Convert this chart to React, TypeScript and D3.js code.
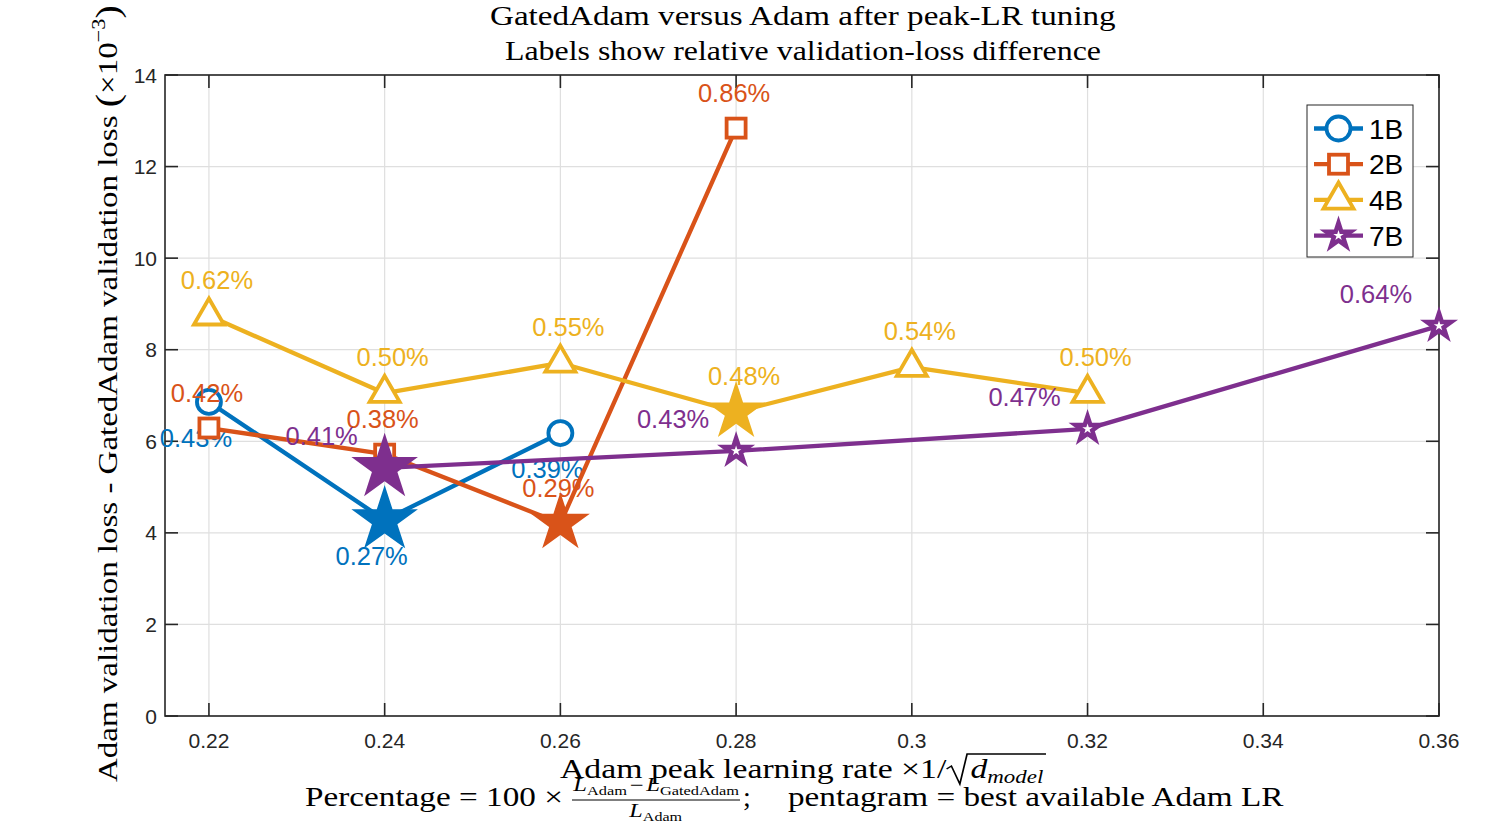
import * as React from 'react'
import {useEffect, useRef} from 'react'
import * as d3 from 'd3'

// axis ticks
const lrTicks = [0.22, 0.24, 0.26, 0.28, 0.3, 0.32, 0.34, 0.36]
const lossTicks = [0, 2, 4, 6, 8, 10, 12, 14]

// data (loss difference in units of 1e-3)
const models = ['1B', '2B', '4B', '7B']

const lr1B = [0.22, 0.24, 0.26]
const diff1B = [6.86, 4.28, 6.18]
const pct1B = ['0.43%', '0.27%', '0.39%']
const best1B = 0.24

const lr2B = [0.22, 0.24, 0.26, 0.28]
const diff2B = [6.29, 5.72, 4.21, 12.84]
const pct2B = ['0.42%', '0.38%', '0.29%', '0.86%']
const best2B = 0.26

const lr4B = [0.22, 0.24, 0.26, 0.28, 0.3, 0.32]
const diff4B = [8.74, 7.05, 7.71, 6.64, 7.62, 7.05]
const pct4B = ['0.62%', '0.50%', '0.55%', '0.48%', '0.54%', '0.50%']
const best4B = 0.28

const lr7B = [0.24, 0.28, 0.32, 0.36]
const diff7B = [5.42, 5.79, 6.27, 8.52]
const pct7B = ['0.41%', '0.43%', '0.47%', '0.64%']
const best7B = 0.24

const lrs = [lr1B, lr2B, lr4B, lr7B]
const diffs = [diff1B, diff2B, diff4B, diff7B]
const pcts = [pct1B, pct2B, pct4B, pct7B]
const bests = [best1B, best2B, best4B, best7B]

const style = {
    '1B': {color: '#0072BD', marker: 'circle', dx: -13, dy: 45, bestR: 35},
    '2B': {color: '#D95319', marker: 'square', dx: -2, dy: -26, bestR: 31},
    '4B': {color: '#EDB120', marker: 'triangle', dx: 8, dy: -27, bestR: 31},
    '7B': {color: '#7E2F8E', marker: 'star', dx: -63, dy: -23, bestR: 35},
}

const W = 1500, H = 833
const left = 165, right = 1439, top = 75, bottom = 716
const sans = "'Liberation Sans', Arial, Helvetica, sans-serif"
const serif = "'Liberation Serif', 'Times New Roman', serif"
const axisColor = '#262626'

const x = d3.scaleLinear().domain([0.215, 0.36]).range([left, right])
const y = d3.scaleLinear().domain([0, 14]).range([bottom, top])

const starPath = (R) => {
    const pts = d3.range(10).map(i => {
        const a = -Math.PI / 2 + i * Math.PI / 5
        const r = i % 2 ? R * 0.382 : R
        return [r * Math.cos(a), r * Math.sin(a)] as [number, number]
    })
    return d3.line()(pts) + 'Z'
}

const triPath = d3.symbol(d3.symbolTriangle, 390)()

const Marker = ({kind, color, cx, cy}) => {
    if (kind === 'circle')
        return <circle cx={cx} cy={cy} r={12} fill='white' stroke={color} strokeWidth={3.8}/>
    if (kind === 'square')
        return <rect x={cx - 9.5} y={cy - 9.5} width={19} height={19} fill='white' stroke={color} strokeWidth={3.8}/>
    if (kind === 'triangle')
        return <path d={triPath} transform={`translate(${cx},${cy})`} fill='white' stroke={color} strokeWidth={3.8} strokeLinejoin='miter'/>
    return (
        <g transform={`translate(${cx},${cy})`}>
            <path d={starPath(20)} fill={color}/>
            <path d={starPath(5.5)} fill='white'/>
        </g>
    )
}

// text group whose width gets stretched to match the reference
const Fit = ({w, transform, children}) => (
    <g className='fit' data-w={w} transform={transform}>
        <g className='inner'>{children}</g>
    </g>
)

const App = () => {
    const svgRef = useRef(null)

    useEffect(() => {
        const svg = d3.select(svgRef.current)
        // radical sign over d_model
        const t = svg.select('text.xlab').node() as SVGTextElement
        if (t) {
            svg.selectAll('.radical').remove()
            const xd = t.getStartPositionOfChar(27).x
            const xe = t.getEndPositionOfChar(32).x
            d3.select(t.parentNode as SVGGElement).append('path')
                .attr('class', 'radical')
                .attr('d', `M${xd - 20},-9 L${xd - 16},-12 L${xd - 9},6 L${xd - 3},-24 L${xe + 2},-24`)
                .attr('fill', 'none')
                .attr('stroke', 'black')
                .attr('stroke-width', 1.4)
        }
        svg.selectAll('g.fit').each(function () {
            const g = d3.select(this as SVGGElement)
            const inner = g.select('g.inner')
            const box = (inner.node() as SVGGElement).getBBox()
            const s = +g.attr('data-w') / box.width
            inner.attr('transform', `scale(${s},1) translate(${-box.x},0)`)
        })
    }, [])

    const line = d3.line<[number, number]>()
        .x(d => x(d[0]))
        .y(d => y(d[1]))

    return (
        <svg ref={svgRef} width={W} height={H}
             style={{position: 'absolute', left: 0, top: 0, background: 'white'}}>
            {/* grid */}
            {lrTicks.map(t => (
                <line key={'gx' + t} x1={x(t)} x2={x(t)} y1={top} y2={bottom} stroke='#dfdfdf' strokeWidth={1.2}/>
            ))}
            {lossTicks.map(t => (
                <line key={'gy' + t} x1={left} x2={right} y1={y(t)} y2={y(t)} stroke='#dfdfdf' strokeWidth={1.2}/>
            ))}

            {/* box and ticks */}
            <rect x={left} y={top} width={right - left} height={bottom - top} fill='none' stroke={axisColor} strokeWidth={1.6}/>
            {lrTicks.map(t => (
                <g key={'tx' + t}>
                    <line x1={x(t)} x2={x(t)} y1={bottom} y2={bottom - 13} stroke={axisColor} strokeWidth={1.6}/>
                    <line x1={x(t)} x2={x(t)} y1={top} y2={top + 13} stroke={axisColor} strokeWidth={1.6}/>
                    <text x={x(t)} y={748} textAnchor='middle' fontFamily={sans} fontSize={21} fill={axisColor}>{String(t)}</text>
                </g>
            ))}
            {lossTicks.map(t => (
                <g key={'ty' + t}>
                    <line x1={left} x2={left + 13} y1={y(t)} y2={y(t)} stroke={axisColor} strokeWidth={1.6}/>
                    <line x1={right} x2={right - 13} y1={y(t)} y2={y(t)} stroke={axisColor} strokeWidth={1.6}/>
                    <text x={157} y={y(t) + 7.5} textAnchor='end' fontFamily={sans} fontSize={21} fill={axisColor}>{t}</text>
                </g>
            ))}

            {/* series */}
            {models.map((m, si) => {
                const st = style[m]
                const pts = lrs[si].map((v, i) => [v, diffs[si][i]] as [number, number])
                return (
                    <g key={m}>
                        <path d={line(pts)} fill='none' stroke={st.color} strokeWidth={4.3} strokeLinejoin='round'/>
                        {pts.filter(p => p[0] !== bests[si]).map((p, i) => (
                            <Marker key={i} kind={st.marker} color={st.color} cx={x(p[0])} cy={y(p[1])}/>
                        ))}
                        {pts.filter(p => p[0] === bests[si]).map((p, i) => (
                            <path key={'b' + i} d={starPath(st.bestR)} transform={`translate(${x(p[0])},${y(p[1])})`} fill={st.color}/>
                        ))}
                        {pts.map((p, i) => (
                            <text key={'l' + i} x={x(p[0]) + st.dx} y={y(p[1]) + st.dy} textAnchor='middle'
                                  fontFamily={sans} fontSize={25.5} fill={st.color}>{pcts[si][i]}</text>
                        ))}
                    </g>
                )
            })}

            {/* legend */}
            <rect x={1307} y={105} width={106} height={152} fill='white' stroke={axisColor} strokeWidth={1}/>
            {models.map((m, i) => {
                const st = style[m]
                const cy = 128.5 + i * 35.7
                return (
                    <g key={'lg' + m}>
                        <line x1={1314} x2={1363} y1={cy} y2={cy} stroke={st.color} strokeWidth={4.3}/>
                        <Marker kind={st.marker} color={st.color} cx={1338.5} cy={cy}/>
                        <text x={1369} y={cy + 10} fontFamily={sans} fontSize={28} fill='black'>{m}</text>
                    </g>
                )
            })}

            {/* titles */}
            <Fit w={626} transform='translate(490,25)'>
                <text x={0} y={0} fontFamily={serif} fontSize={28}>GatedAdam versus Adam after peak-LR tuning</text>
            </Fit>
            <Fit w={596} transform='translate(505,60)'>
                <text x={0} y={0} fontFamily={serif} fontSize={28}>Labels show relative validation-loss difference</text>
            </Fit>

            {/* y label */}
            <Fit w={777} transform='translate(117,782) rotate(-90)'>
                <text x={0} y={0} fontFamily={serif} fontSize={28}>
                    <tspan>Adam validation loss - GatedAdam validation loss </tspan>
                    <tspan fontSize={34} dy={2}>(</tspan>
                    <tspan dy={-2}>×10</tspan>
                    <tspan fontSize={19} dy={-12}>−3</tspan>
                    <tspan fontSize={34} dy={14}>)</tspan>
                </text>
            </Fit>

            {/* x label */}
            <Fit w={486} transform='translate(560,778)'>
                <text className='xlab' x={0} y={0} fontFamily={serif} fontSize={28}>
                    <tspan>Adam peak learning rate ×1/</tspan>
                    <tspan dx={20} fontStyle='italic'>d</tspan>
                    <tspan fontStyle='italic' fontSize={19} dy={5}>model</tspan>
                </text>
            </Fit>

            {/* footnote line */}
            <Fit w={258} transform='translate(305,806)'>
                <text x={0} y={0} fontFamily={serif} fontSize={28}>Percentage = 100 ×</text>
            </Fit>
            <Fit w={168} transform='translate(572,791)'>
                <text x={0} y={0} fontFamily={serif} fontSize={18}>
                    <tspan fontStyle='italic'>L</tspan>
                    <tspan fontSize={12} dy={4}>Adam</tspan>
                    <tspan dy={-4} dx={2}>−</tspan>
                    <tspan fontStyle='italic' dx={2}>L</tspan>
                    <tspan fontSize={12} dy={4}>GatedAdam</tspan>
                </text>
            </Fit>
            <line x1={572} x2={740} y1={800} y2={800} stroke='black' strokeWidth={1.2}/>
            <Fit w={55} transform='translate(628,817)'>
                <text x={0} y={0} fontFamily={serif} fontSize={18}>
                    <tspan fontStyle='italic'>L</tspan>
                    <tspan fontSize={12} dy={4}>Adam</tspan>
                </text>
            </Fit>
            <text x={743} y={806} fontFamily={serif} fontSize={28}>;</text>
            <Fit w={496} transform='translate(788,806)'>
                <text x={0} y={0} fontFamily={serif} fontSize={28}>pentagram = best available Adam LR</text>
            </Fit>
        </svg>
    )
}

export default App
